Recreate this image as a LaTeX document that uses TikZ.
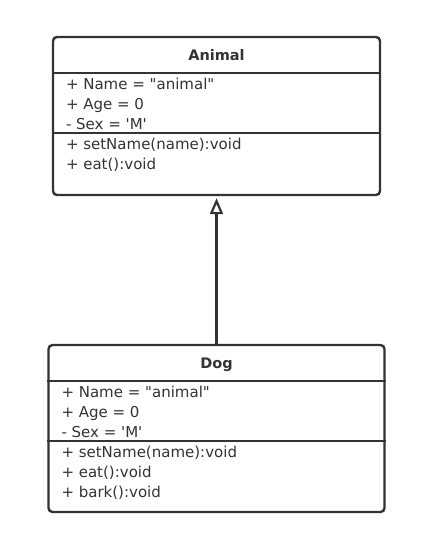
\documentclass[tikz,border=0pt]{standalone}
\usepackage{fontspec}
\setmainfont{DejaVu Sans}[Ligatures=TeXOff]
\usetikzlibrary{arrows.meta, positioning}
\definecolor{umlgray}{RGB}{51,51,51}
\begin{document}
\begin{tikzpicture}[
    x=1pt, y=-1pt,
    classbox/.style={rectangle, draw=umlgray, line width=2.4pt, rounded corners=4pt, inner sep=0pt},
    classname/.style={anchor=base, inner sep=0pt, text=umlgray, font=\fontsize{14.5}{18}\selectfont\bfseries},
    members/.style={align=left, inner sep=0pt, text=umlgray, font=\fontsize{15}{20}\selectfont},
    sepline/.style={draw=umlgray, line width=2pt},
    inherit/.style={-{Triangle[open, length=16pt, width=13pt, line width=2.2pt]}, draw=umlgray, line width=2.6pt, shorten >=2pt}
]
\useasboundingbox (0,0) rectangle (422,544);

% Class Animal
\node[classbox, minimum width=327pt, minimum height=158pt] (animal) at (216.5,116) {};
\node[classname] (animalname) at ([yshift=-25pt]animal.north) {Animal};
\coordinate (animalsep1) at ([yshift=-37pt]animal.north west);
\coordinate (animalsep2) at ([yshift=-97pt]animal.north west);
\draw[sepline] (animalsep1) -- (animalsep1 -| animal.east);
\draw[sepline] (animalsep2) -- (animalsep2 -| animal.east);
\node[members, below right=2pt and 14pt of animalsep1] (animalattr) {\strut + Name = "animal"\\+ Age = 0\\- Sex = 'M'};
\node[members, below right=2pt and 14pt of animalsep2] (animalops) {\strut + setName(name):void\\+ eat():void};

% Class Dog
\node[classbox, minimum width=336pt, minimum height=167pt] (dog) at (216.5,428.5) {};
\node[classname] (dogname) at ([yshift=-25pt]dog.north) {Dog};
\coordinate (dogsep1) at ([yshift=-37pt]dog.north west);
\coordinate (dogsep2) at ([yshift=-97pt]dog.north west);
\draw[sepline] (dogsep1) -- (dogsep1 -| dog.east);
\draw[sepline] (dogsep2) -- (dogsep2 -| dog.east);
\node[members, below right=2pt and 14pt of dogsep1] (dogattr) {\strut + Name = "animal"\\+ Age = 0\\- Sex = 'M'};
\node[members, below right=2pt and 14pt of dogsep2] (dogops) {\strut + setName(name):void\\+ eat():void\\+ bark():void};

% Generalization
\draw[inherit] (dog.north) -- (animal.south);

\end{tikzpicture}
\end{document}
